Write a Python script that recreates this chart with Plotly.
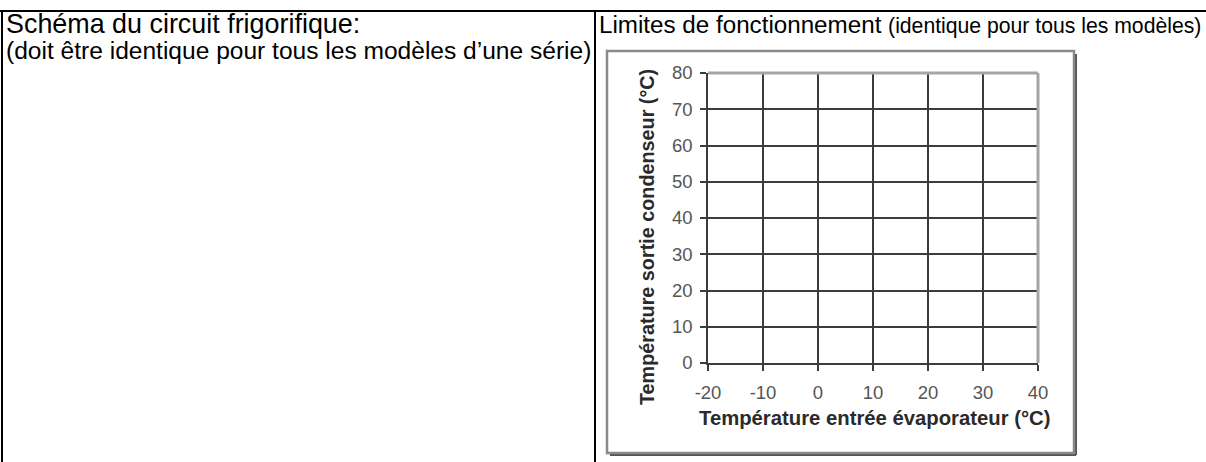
import plotly.graph_objects as go

# ---- data / text ----
x_range = [-20, 40]
y_range = [0, 80]
x_ticks = [-20, -10, 0, 10, 20, 30, 40]
y_ticks = [0, 10, 20, 30, 40, 50, 60, 70, 80]
x_title = "Température entrée évaporateur (°C)"
y_title = "Température sortie condenseur (°C)"
left_line1 = "Schéma du circuit frigorifique:"
left_line2 = "(doit être identique pour tous les modèles d’une série)"
right_title_main = "Limites de fonctionnement"
right_title_sub = "(identique pour tous les modèles)"

W, H = 1206, 462
FONT = "Liberation Sans, Arial, sans-serif"


def px(x):
    return x / W


def py(y):
    return 1 - y / H


fig = go.Figure()
fig.add_trace(go.Scatter(x=[], y=[], mode="lines", showlegend=False))

grid_col = "#3c3c3c"
tick_font = dict(family=FONT, size=18.5, color="#555555")

fig.update_layout(
    width=W, height=H,
    margin=dict(l=0, r=0, t=0, b=0, pad=0, autoexpand=False),
    paper_bgcolor="white", plot_bgcolor="white",
    showlegend=False,
    xaxis=dict(
        domain=[px(708), px(1038)], range=x_range,
        tickvals=x_ticks, ticktext=[str(v) for v in x_ticks],
        showgrid=True, gridcolor=grid_col, gridwidth=1.6,
        showline=True, linecolor=grid_col, linewidth=1.6,
        ticks="outside", ticklen=6, tickcolor=grid_col, tickwidth=1.5,
        tickfont=tick_font, zeroline=False, fixedrange=True,
        ticklabelstandoff=6, automargin=False,
    ),
    yaxis=dict(
        domain=[py(363), py(73)], range=y_range,
        tickvals=y_ticks, ticktext=[str(v) for v in y_ticks],
        showgrid=True, gridcolor=grid_col, gridwidth=1.6,
        showline=True, linecolor=grid_col, linewidth=1.6,
        ticks="outside", ticklen=6, tickcolor=grid_col, tickwidth=1.5,
        tickfont=tick_font, zeroline=False, fixedrange=True,
        ticklabelstandoff=4, automargin=False,
    ),
)

shapes = []
# table borders
shapes.append(dict(type="line", xref="paper", yref="paper",
                   x0=0, x1=1, y0=py(11), y1=py(11),
                   line=dict(color="black", width=2)))
shapes.append(dict(type="line", xref="paper", yref="paper",
                   x0=px(2), x1=px(2), y0=py(11), y1=0,
                   line=dict(color="black", width=2)))
shapes.append(dict(type="line", xref="paper", yref="paper",
                   x0=px(595), x1=px(595), y0=py(11), y1=0,
                   line=dict(color="black", width=2)))
# chart frame with shadow
shapes.append(dict(type="line", xref="paper", yref="paper",
                   x0=px(1076), x1=px(1076), y0=py(54), y1=py(455),
                   line=dict(color="#555555", width=2)))
shapes.append(dict(type="line", xref="paper", yref="paper",
                   x0=px(610), x1=px(1076), y0=py(455), y1=py(455),
                   line=dict(color="#555555", width=2)))
shapes.append(dict(type="rect", xref="paper", yref="paper",
                   x0=px(607), x1=px(1074), y0=py(453), y1=py(51),
                   line=dict(color="#8a8a8a", width=2.5)))
# plot-area top/right border (lighter)
shapes.append(dict(type="line", xref="x domain", yref="y domain",
                   x0=0, x1=1, y0=1, y1=1, layer="above",
                   line=dict(color="#a5a5a5", width=3)))
shapes.append(dict(type="line", xref="x domain", yref="y domain",
                   x0=1, x1=1, y0=0, y1=1, layer="above",
                   line=dict(color="#a5a5a5", width=3)))
fig.update_layout(shapes=shapes)

ann = []
ann.append(dict(text=left_line1, xref="paper", yref="paper",
                x=px(4), y=py(24), xanchor="left", yanchor="middle",
                showarrow=False, font=dict(family=FONT, size=26.9, color="black")))
ann.append(dict(text=left_line2, xref="paper", yref="paper",
                x=px(4), y=py(50), xanchor="left", yanchor="middle",
                showarrow=False, font=dict(family=FONT, size=24.55, color="black")))
ann.append(dict(text=right_title_main + " <span style='font-size:21.2px'>" + right_title_sub + "</span>",
                xref="paper", yref="paper",
                x=px(597), y=py(24), xanchor="left", yanchor="middle",
                showarrow=False, font=dict(family=FONT, size=24.2, color="black")))
ann.append(dict(text="<b>" + x_title + "</b>", xref="paper", yref="paper",
                x=px(875), y=py(418), xanchor="center", yanchor="middle",
                showarrow=False, font=dict(family=FONT, size=20.3, color="#2a2a2a")))
ann.append(dict(text="<b>" + y_title + "</b>", xref="paper", yref="paper",
                x=px(647), y=py(237), xanchor="center", yanchor="middle",
                textangle=-90,
                showarrow=False, font=dict(family=FONT, size=19.8, color="#2a2a2a")))
fig.update_layout(annotations=ann)

fig.write_html("out.html",
               config={"displayModeBar": False},
               post_script="document.body.style.margin='0';")
